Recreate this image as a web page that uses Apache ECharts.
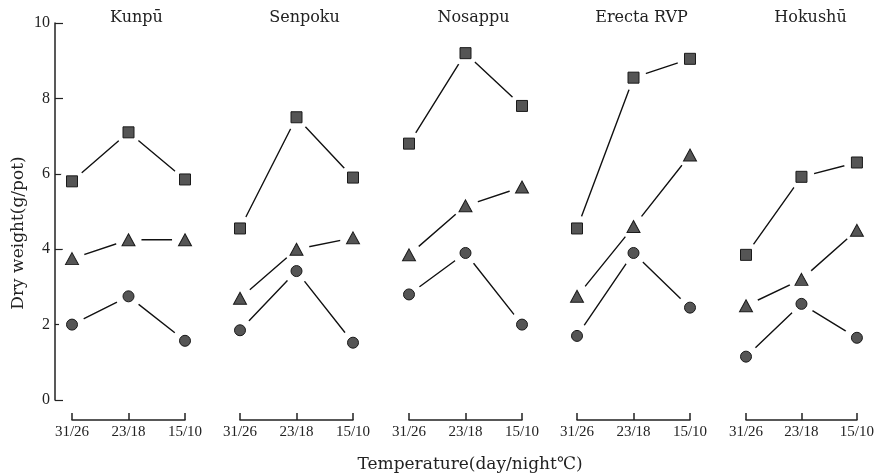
<!DOCTYPE html>
<html><head><meta charset="utf-8">
<script src="https://cdn.jsdelivr.net/npm/echarts@6/dist/echarts.min.js"></script>
<style>html,body{margin:0;padding:0;background:#fff}#c{width:877px;height:475px}</style>
</head><body><div id="c"></div>
<script>
const categories = ['31/26', '23/18', '15/10'];
const cultivars = ['Kunpū', 'Senpoku', 'Nosappu', 'Erecta RVP', 'Hokushū'];
const squares = [[5.8, 7.1, 5.85], [4.55, 7.5, 5.9], [6.8, 9.2, 7.8], [4.55, 8.55, 9.05], [3.85, 5.92, 6.3]];
const triangles = [[3.75, 4.25, 4.25], [2.7, 4.0, 4.3], [3.85, 5.15, 5.65], [2.75, 4.6, 6.5], [2.5, 3.2, 4.5]];
const circles = [[2.0, 2.75, 1.57], [1.85, 3.42, 1.52], [2.8, 3.9, 2.0], [1.7, 3.9, 2.45], [1.15, 2.55, 1.65]];
const yTicks = [0, 2, 4, 6, 8, 10];
const yName = 'Dry weight(g/pot)';
const xName = 'Temperature(day/night℃)';

const FONT = '"Liberation Serif", "DejaVu Serif", serif';
const WFONT = '"DejaVu Serif", "Liberation Serif", serif';
const lefts = [72, 240, 409, 577, 746];
const W = 113;
const grids = [], xAxes = [], yAxes = [], series = [], titles = [];
const groups = [
  { data: squares, symbol: 'rect', size: 11 },
  { data: triangles, symbol: 'triangle', size: [13, 12] },
  { data: circles, symbol: 'circle', size: 11 }
];
cultivars.forEach((name, i) => {
  grids.push({ left: lefts[i], width: W, top: 23, bottom: 75 });
  titles.push({ text: name, left: lefts[i] + W / 2 + 3, top: 5, textAlign: 'center',
    textStyle: { fontFamily: WFONT, fontSize: 16, fontWeight: 'normal', color: '#222' } });
  xAxes.push({
    type: 'category', gridIndex: i, data: categories, boundaryGap: false, offset: 20,
    axisLine: { onZero: false, lineStyle: { color: '#222', width: 1.5 } },
    axisTick: { inside: true, length: 7, lineStyle: { color: '#222', width: 1.5 } },
    axisLabel: { fontFamily: FONT, fontSize: 15, color: '#222', margin: 5 },
    splitLine: { show: false }
  });
  yAxes.push({
    type: 'value', gridIndex: i, min: 0, max: 10, interval: 2, show: i === 0, offset: 17,
    axisLine: { show: true, lineStyle: { color: '#222', width: 1.5 } },
    axisTick: { show: true, inside: true, length: 8, lineStyle: { color: '#222', width: 1.2 } },
    axisLabel: { fontFamily: FONT, fontSize: 16, color: '#222', margin: 5,
      formatter: v => yTicks.includes(v) ? String(v) : '' },
    splitLine: { show: false }
  });
  groups.forEach(g => {
    series.push({ type: 'line', xAxisIndex: i, yAxisIndex: i, data: g.data[i], showSymbol: false, symbol: 'none',
      lineStyle: { color: '#111', width: 1.4 }, z: 2, zlevel: 0, silent: true, animation: false });
  });
  groups.forEach(g => {
    series.push({ type: 'scatter', xAxisIndex: i, yAxisIndex: i, data: g.data[i], symbol: 'circle',
      symbolSize: 26, itemStyle: { color: '#ffffff', opacity: 1 }, z: 1, zlevel: 1, silent: true, animation: false });
  });
  groups.forEach(g => {
    series.push({ type: 'scatter', xAxisIndex: i, yAxisIndex: i, data: g.data[i], symbol: g.symbol,
      symbolSize: g.size, itemStyle: { color: '#555', borderColor: '#1a1a1a', borderWidth: 1, opacity: 1 },
      z: 5, zlevel: 1, silent: true, animation: false });
  });
});
const chart = echarts.init(document.getElementById('c'), null, { renderer: 'canvas' });
chart.setOption({
  backgroundColor: '#fff',
  animation: false,
  title: titles,
  grid: grids, xAxis: xAxes, yAxis: yAxes, series: series,
  graphic: [
    { type: 'text', x: 470, y: 465,
      style: { text: xName, font: '17px ' + WFONT, fill: '#222', textAlign: 'center', textVerticalAlign: 'middle' } },
    { type: 'text', x: 19, y: 233, rotation: Math.PI / 2,
      style: { text: yName, font: '17px ' + WFONT, fill: '#222', textAlign: 'center', textVerticalAlign: 'middle' } }
  ]
});
</script></body></html>
